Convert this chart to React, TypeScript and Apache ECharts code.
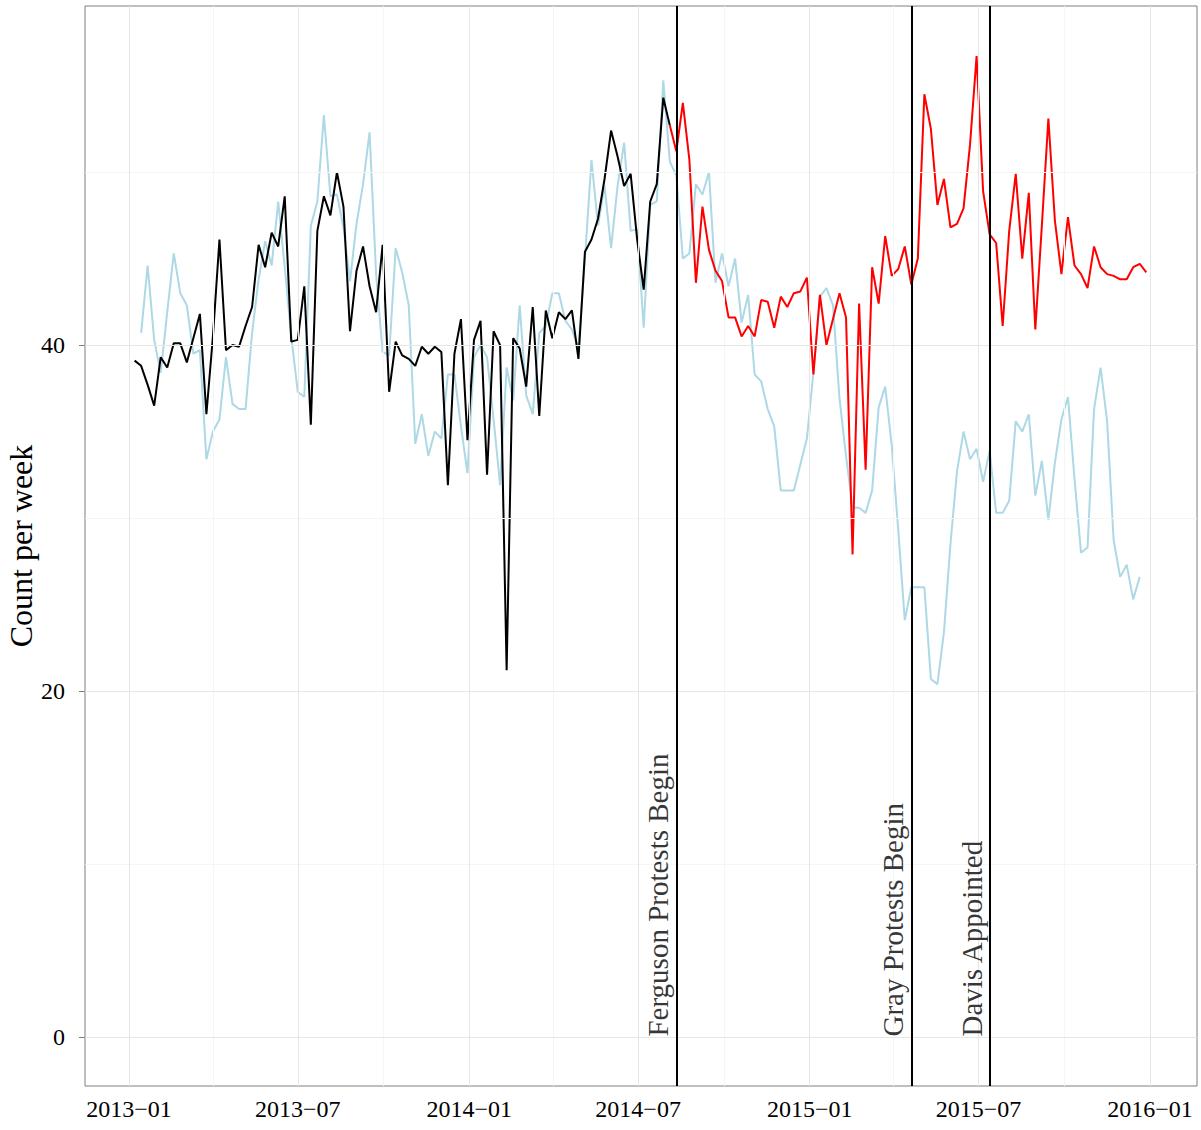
import React, { useEffect, useRef } from "react";
import * as echarts from "echarts";

const FONT = "'Liberation Serif', 'Times New Roman', serif";

// Weekly counts; week k falls on 2013-01-07 + 7k days.
// Observed counts before the Ferguson protests (weeks 0..82).
const observedBefore = [
  39.1, 38.8, 37.7, 36.5, 39.3, 38.7, 40.1, 40.1, 39.0, 40.4,
  41.8, 36.0, 40.5, 46.1, 39.7, 40.0, 39.9, 41.1, 42.2, 45.8,
  44.5, 46.5, 45.7, 48.6, 40.2, 40.3, 43.4, 35.4, 46.6, 48.6,
  47.5, 50.0, 48.0, 40.8, 44.3, 45.7, 43.4, 41.9, 45.8, 37.3,
  40.2, 39.4, 39.2, 38.8, 39.9, 39.5, 39.9, 39.6, 31.9, 39.5,
  41.5, 34.5, 40.3, 41.4, 32.5, 40.8, 40.0, 21.2, 40.4, 39.8,
  37.6, 42.2, 35.9, 42.0, 40.4, 41.9, 41.5, 42.0, 39.2, 45.4,
  46.1, 47.3, 49.6, 52.4, 50.9, 49.2, 49.9, 46.1, 43.2, 48.3,
  49.3, 54.3, 52.7,
];
const observedBeforeStart = 0;

// Observed counts from the Ferguson protests onward (weeks 82..155).
const observedAfter = [
  52.7, 51.2, 54.0, 50.7, 43.6, 48.0, 45.5, 44.3, 43.7, 41.6,
  41.6, 40.5, 41.1, 40.5, 42.6, 42.5, 41.0, 42.8, 42.2, 43.0,
  43.1, 43.9, 38.3, 42.9, 40.0, 41.5, 43.0, 41.6, 27.9, 42.4,
  32.8, 44.5, 42.4, 46.3, 44.0, 44.4, 45.7, 43.5, 45.0, 54.5,
  52.5, 48.1, 49.6, 46.8, 47.0, 47.9, 51.6, 56.7, 48.9, 46.4,
  45.9, 41.1, 46.6, 49.9, 45.0, 48.8, 40.9, 46.9, 53.1, 47.2,
  44.1, 47.4, 44.6, 44.1, 43.3, 45.7, 44.5, 44.1, 44.0, 43.8,
  43.8, 44.5, 44.7, 44.2,
];
const observedAfterStart = 82;

// Comparison series (weeks 1..154).
const comparison = [
  40.7, 44.6, 40.3, 38.4, 41.9, 45.3, 43.0, 42.3, 39.5, 39.7,
  33.4, 35.0, 35.7, 39.3, 36.6, 36.3, 36.3, 40.7, 43.8, 46.0,
  44.6, 48.3, 44.5, 40.5, 37.3, 37.0, 46.9, 48.3, 53.3, 48.6,
  48.7, 46.8, 43.7, 47.0, 49.3, 52.3, 44.1, 39.6, 39.4, 45.6,
  44.2, 42.3, 34.3, 36.0, 33.6, 35.0, 34.6, 38.3, 38.3, 35.3,
  32.6, 39.3, 40.0, 39.3, 35.7, 31.9, 38.7, 36.8, 42.3, 37.1,
  36.0, 40.7, 41.1, 43.0, 43.0, 41.4, 40.9, 39.8, 45.0, 50.7,
  46.9, 49.2, 45.6, 49.2, 51.7, 46.6, 46.7, 41.0, 48.1, 48.3,
  55.3, 50.6, 49.8, 45.0, 45.3, 49.3, 48.7, 50.0, 43.6, 45.3,
  43.4, 45.0, 41.3, 42.9, 38.3, 37.9, 36.3, 35.3, 31.6, 31.6,
  31.6, 33.1, 34.6, 38.4, 42.8, 43.3, 42.3, 36.9, 33.6, 30.6,
  30.6, 30.3, 31.6, 36.4, 37.6, 34.2, 29.3, 24.1, 26.0, 26.0,
  26.0, 20.7, 20.4, 23.4, 28.5, 32.7, 35.0, 33.4, 34.0, 32.1,
  33.9, 30.3, 30.3, 31.0, 35.6, 35.0, 36.0, 31.3, 33.3, 29.9,
  33.2, 35.7, 37.0, 32.3, 28.0, 28.3, 36.3, 38.7, 35.6, 28.7,
  26.6, 27.3, 25.3, 26.6,
];
const comparisonStart = 1;

const eventDates = ["2014-08-11", "2015-04-20", "2015-07-13"];
const eventLabels = ["Ferguson Protests Begin", "Gray Protests Begin", "Davis Appointed"];

const xTickDates = [
  "2013-01-01", "2013-07-01", "2014-01-01", "2014-07-01",
  "2015-01-01", "2015-07-01", "2016-01-01",
];
const xMinorDates = [
  "2013-04-01", "2013-10-01", "2014-04-01", "2014-10-01",
  "2015-04-01", "2015-10-01",
];
const yTicks = [0, 20, 40];
const yMinor = [10, 30, 50];

const DAY = 86400000;
const ymd = (s: string) => {
  const [y, m, d] = s.split("-").map(Number);
  return new Date(y, m - 1, d).getTime();
};
const weekDate = (k: number) => new Date(2013, 0, 7 + 7 * k).getTime();
const toPoints = (vals: number[], start: number) =>
  vals.map((v, i) => [weekDate(start + i), v]);

const X_MIN = ymd("2013-01-01") - 47.2 * DAY;
const X_MAX = ymd("2016-01-01") + 50.4 * DAY;

const fmtMonth = (val: number) => {
  const d = new Date(val);
  return `${d.getFullYear()}\u2212${String(d.getMonth() + 1).padStart(2, "0")}`;
};

export default function App() {
  const ref = useRef<HTMLDivElement>(null);

  useEffect(() => {
    if (!ref.current) return;
    const chart = echarts.init(ref.current, undefined, { renderer: "svg" });
    const xTickVals = xTickDates.map(ymd);

    const majorStyle = { color: "#e6e6e6", width: 1, type: "solid" };
    const minorStyle = { color: "#f5f5f5", width: 1, type: "solid" };

    chart.setOption({
      animation: false,
      backgroundColor: "#ffffff",
      textStyle: { fontFamily: FONT },
      grid: {
        left: 85,
        top: 6,
        width: 1112,
        height: 1080,
        show: true,
        borderColor: "#7f7f7f",
        borderWidth: 1,
        backgroundColor: "transparent",
        containLabel: false,
        outerBoundsMode: "none",
      },
      xAxis: {
        type: "value",
        min: X_MIN,
        max: X_MAX,
        axisLine: { show: false },
        axisTick: {
          show: true,
          customValues: xTickVals,
          length: 6,
          lineStyle: { color: "#7f7f7f", width: 1 },
        },
        axisLabel: {
          customValues: xTickVals,
          formatter: fmtMonth,
          fontSize: 24,
          color: "#000000",
          fontFamily: FONT,
          margin: 11,
          hideOverlap: false,
        },
        splitLine: { show: false },
      },
      yAxis: {
        type: "value",
        min: -2.83,
        max: 59.6,
        axisLine: { show: false },
        axisTick: {
          show: true,
          customValues: yTicks,
          length: 6,
          lineStyle: { color: "#7f7f7f", width: 1 },
        },
        axisLabel: {
          customValues: yTicks,
          fontSize: 24,
          color: "#000000",
          fontFamily: FONT,
          margin: 20,
        },
        splitLine: { show: false },
        name: "Count per week",
        nameLocation: "middle",
        nameGap: 48,
        nameMoveOverlap: false,
        nameTextStyle: { fontSize: 32, color: "#000000", fontFamily: FONT },
      },
      series: [
        {
          name: "grid",
          type: "line",
          data: [],
          silent: true,
          z: 1,
          markLine: {
            silent: true,
            symbol: ["none", "none"],
            label: { show: false },
            data: [
              ...xMinorDates.map((d) => ({ xAxis: ymd(d), lineStyle: minorStyle })),
              ...yMinor.map((v) => ({ yAxis: v, lineStyle: minorStyle })),
              ...xTickVals.map((v) => ({ xAxis: v, lineStyle: majorStyle })),
              ...yTicks.map((v) => ({ yAxis: v, lineStyle: majorStyle })),
            ],
          },
        },
        {
          name: "comparison",
          type: "line",
          z: 2,
          symbol: "none",
          lineStyle: { color: "#ADD8E6", width: 2 },
          data: toPoints(comparison, comparisonStart),
        },
        {
          name: "before",
          type: "line",
          z: 3,
          symbol: "none",
          lineStyle: { color: "#000000", width: 2 },
          data: toPoints(observedBefore, observedBeforeStart),
        },
        {
          name: "after",
          type: "line",
          z: 3,
          symbol: "none",
          lineStyle: { color: "#FF0000", width: 2 },
          data: toPoints(observedAfter, observedAfterStart),
        },
        {
          name: "events",
          type: "line",
          data: [],
          silent: true,
          z: 4,
          markLine: {
            silent: true,
            symbol: ["none", "none"],
            label: { show: false },
            lineStyle: { color: "#000000", width: 2, type: "solid" },
            data: eventDates.map((d) => ({ xAxis: ymd(d) })),
          },
        },
        {
          name: "eventLabels",
          type: "scatter",
          z: 5,
          silent: true,
          symbolSize: 1,
          itemStyle: { color: "rgba(0,0,0,0)" },
          data: eventDates.map((d, i) => ({ name: eventLabels[i], value: [ymd(d), 0] })),
          label: {
            show: true,
            formatter: "{b}",
            rotate: 90,
            position: [-3, 0],
            align: "left",
            verticalAlign: "bottom",
            fontSize: 29,
            color: "#000000",
            fontFamily: FONT,
          },
        },
      ],
    });

    return () => chart.dispose();
  }, []);

  return (
    <div
      ref={ref}
      style={{ position: "absolute", left: 0, top: 0, width: 1201, height: 1130, background: "#fff" }}
    />
  );
}
